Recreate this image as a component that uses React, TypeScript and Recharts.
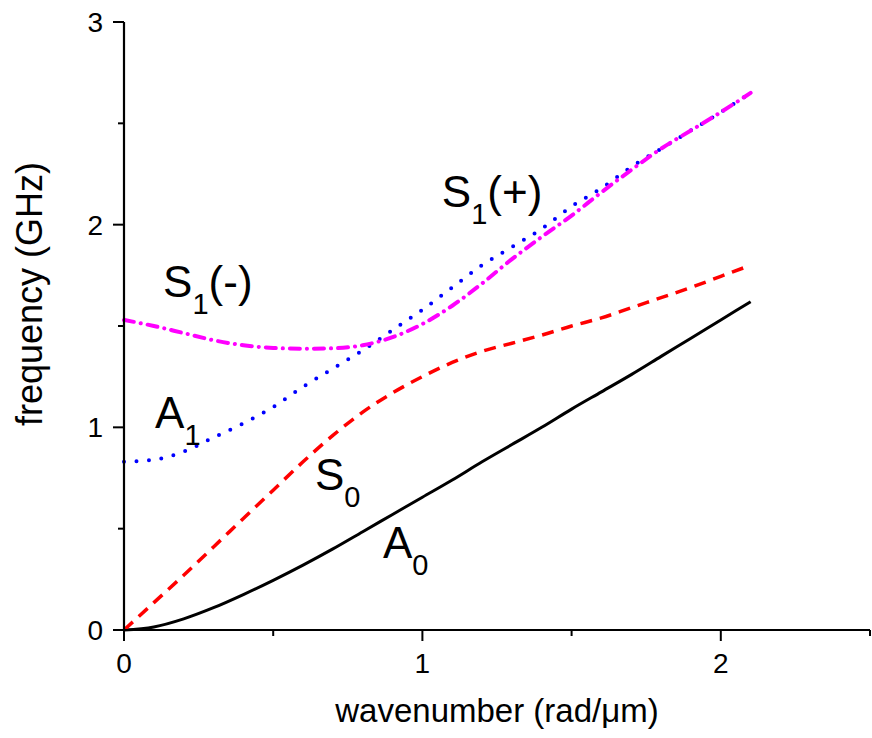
import {
  LineChart,
  Line,
  XAxis,
  YAxis,
  ReferenceDot,
} from 'recharts';

// wavenumber (rad/um)
const wavenumber = [0, 0.1, 0.2, 0.3, 0.4, 0.5, 0.6, 0.7, 0.8, 0.9, 1.0, 1.1, 1.2, 1.3, 1.4, 1.5, 1.6, 1.7, 1.8, 1.9, 2.0, 2.1];

// frequency (GHz) per mode
const modeA0 = [0, 0.015, 0.055, 0.11, 0.175, 0.245, 0.32, 0.4, 0.485, 0.57, 0.655, 0.74, 0.83, 0.915, 1.0, 1.09, 1.175, 1.26, 1.35, 1.44, 1.53, 1.62];
const modeS0 = [0, 0.135, 0.27, 0.41, 0.55, 0.69, 0.83, 0.96, 1.075, 1.17, 1.25, 1.32, 1.375, 1.415, 1.455, 1.5, 1.54, 1.59, 1.64, 1.69, 1.745, 1.8];
const modeA1 = [0.83, 0.84, 0.88, 0.95, 1.02, 1.1, 1.2, 1.29, 1.38, 1.48, 1.58, 1.69, 1.8, 1.89, 1.98, 2.09, 2.18, 2.285, 2.375, 2.465, 2.555, 2.65];
const modeS1 = [1.53, 1.5, 1.465, 1.43, 1.405, 1.392, 1.388, 1.39, 1.405, 1.445, 1.51, 1.6, 1.71, 1.83, 1.94, 2.045, 2.16, 2.27, 2.375, 2.465, 2.555, 2.65];

const xTicks = [0, 0.5, 1, 1.5, 2, 2.5];
const yTicks = [0, 0.5, 1, 1.5, 2, 2.5, 3];

// curve labels: main letter, subscript, trailing text
const curveLabels = [
  { k: 0.131, f: 1.643, main: 'S', sub: '1', tail: '(-)' },
  { k: 0.104, f: 0.997, main: 'A', sub: '1', tail: '' },
  { k: 0.64, f: 0.691, main: 'S', sub: '0', tail: '' },
  { k: 0.868, f: 0.355, main: 'A', sub: '0', tail: '' },
  { k: 1.065, f: 2.087, main: 'S', sub: '1', tail: '(+)' },
];

const FONT = '"Liberation Sans", Arial, Helvetica, sans-serif';

const rows = wavenumber.map((k, i) => ({
  k,
  a0: modeA0[i],
  s0: modeS0[i],
  a1: modeA1[i],
  s1: modeS1[i],
}));

function XTick(props: any) {
  const { x, y, payload } = props;
  const v = payload.value;
  const major = Number.isInteger(v);
  return (
    <g>
      <line x1={x} x2={x} y1={y} y2={y + (major ? 11 : 6)} stroke="#000" strokeWidth={2} />
      {major && (
        <text x={x} y={y + 43} textAnchor="middle" fontSize={28} fontFamily={FONT} fill="#000">
          {v}
        </text>
      )}
    </g>
  );
}

function YTick(props: any) {
  const { x, y, payload } = props;
  const v = payload.value;
  const major = Number.isInteger(v);
  return (
    <g>
      <line x1={x - (major ? 11 : 6)} x2={x} y1={y} y2={y} stroke="#000" strokeWidth={2} />
      {major && (
        <text x={x - 21} y={y} dy="0.36em" textAnchor="end" fontSize={28} fontFamily={FONT} fill="#000">
          {v}
        </text>
      )}
    </g>
  );
}

function modeLabel(main: string, sub: string, tail: string) {
  return (p: any) => {
    const vb = p.viewBox || {};
    return (
      <text x={vb.x} y={vb.y} fontFamily={FONT} fontSize={44} fill="#000">
        <tspan>{main}</tspan>
        <tspan fontSize={29} dy={17}>{sub}</tspan>
        {tail && <tspan dy={-17}>{tail}</tspan>}
      </text>
    );
  };
}

export default function App() {
  return (
    <div style={{ position: 'absolute', left: 0, top: 0, background: '#fff' }}>
      <LineChart
        width={872}
        height={738}
        data={rows}
        margin={{ top: 22, right: 2, bottom: 0, left: 0 }}
      >
        <XAxis
          dataKey="k"
          type="number"
          domain={[0, 2.5]}
          ticks={xTicks}
          interval={0}
          height={108}
          tickSize={0}
          tickMargin={0}
          tickLine={false}
          tick={<XTick />}
          axisLine={{ stroke: '#000', strokeWidth: 2.2 }}
        />
        <YAxis
          type="number"
          domain={[0, 3]}
          ticks={yTicks}
          interval={0}
          width={124}
          tickSize={0}
          tickMargin={0}
          tickLine={false}
          tick={<YTick />}
          axisLine={{ stroke: '#000', strokeWidth: 2.2 }}
        />
        <Line
          dataKey="a0"
          type="monotone"
          stroke="#000000"
          strokeWidth={3}
          dot={false}
          isAnimationActive={false}
        />
        <Line
          dataKey="s0"
          type="monotone"
          stroke="#ff0000"
          strokeWidth={3.5}
          strokeDasharray="12 8"
          dot={false}
          isAnimationActive={false}
        />
        <Line
          dataKey="a1"
          type="monotone"
          stroke="#0000ff"
          strokeWidth={4}
          strokeLinecap="round"
          strokeDasharray="0 12.5"
          dot={false}
          isAnimationActive={false}
        />
        <Line
          dataKey="s1"
          type="monotone"
          stroke="#ff00ff"
          strokeWidth={4}
          strokeLinecap="round"
          strokeDasharray="10 7 0.1 7"
          dot={false}
          isAnimationActive={false}
        />
        {curveLabels.map((l, i) => (
          <ReferenceDot
            key={i}
            x={l.k}
            y={l.f}
            r={0}
            fill="none"
            stroke="none"
            label={{ content: modeLabel(l.main, l.sub, l.tail) }}
          />
        ))}
        <text
          x={497}
          y={722}
          textAnchor="middle"
          fontFamily={FONT}
          fontSize={33}
          fill="#000"
        >
          wavenumber (rad/μm)
        </text>
        <text
          transform="translate(42, 294) rotate(-90)"
          textAnchor="middle"
          fontFamily={FONT}
          fontSize={36}
          fill="#000"
        >
          frequency (GHz)
        </text>
      </LineChart>
    </div>
  );
}
